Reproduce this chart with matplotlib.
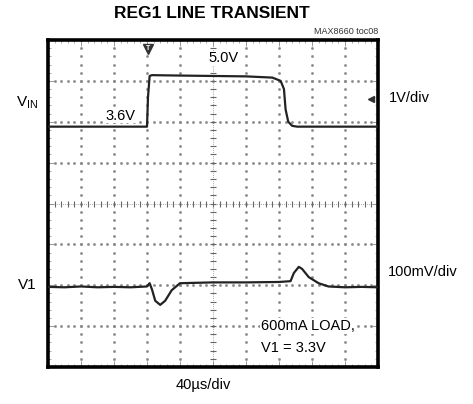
import matplotlib
matplotlib.use("Agg")
import matplotlib.pyplot as plt

plt.rcParams['font.family'] = ['Liberation Sans', 'DejaVu Sans']

# ---- data (in scope divisions: x 0..10, y 0..8) ----
vin_x = [0.0, 3.0, 3.03, 3.08, 3.15, 4.0, 5.0, 6.0, 6.8, 7.05, 7.15, 7.2, 7.28, 7.4, 7.55, 8.0, 9.0, 10.0]
vin_y = [5.88, 5.88, 6.6, 7.12, 7.14, 7.13, 7.12, 7.11, 7.08, 7.0, 6.8, 6.3, 6.0, 5.9, 5.88, 5.88, 5.88, 5.88]

v1_x = [0.0, 0.5, 1.0, 1.5, 2.0, 2.5, 3.0, 3.08, 3.15, 3.25, 3.4, 3.55, 3.75, 4.0, 4.5, 5.0, 6.0, 7.0, 7.35, 7.45, 7.6, 7.7, 7.9, 8.2, 8.5, 9.0, 9.5, 10.0]
v1_y = [1.96, 1.95, 1.97, 1.95, 1.96, 1.95, 1.97, 2.05, 1.9, 1.62, 1.52, 1.62, 1.88, 2.05, 2.06, 2.07, 2.07, 2.08, 2.1, 2.3, 2.45, 2.4, 2.2, 2.05, 1.97, 1.95, 1.96, 1.95]

label_vin_scale = "1V/div"
label_v1_scale = "100mV/div"
time_scale = "40\u00b5s/div"

fig = plt.figure(figsize=(4.73, 4.04), dpi=100)
ax = fig.add_axes([48/473, 37/404, 330/473, 327/404])
ax.set_xlim(0, 10)
ax.set_ylim(0, 8)

# dotted grid
grid_c = "#8a8a8a"
for k in range(1, 10):
    if k == 5:
        continue
    ys = [j / 5 for j in range(0, 41)]
    ax.plot([k] * len(ys), ys, linestyle="none", marker="s", markersize=0.9, color=grid_c, zorder=1)
for k in range(1, 8):
    if k == 4:
        continue
    xs = [j / 5 for j in range(0, 51)]
    ax.plot(xs, [k] * len(xs), linestyle="none", marker="s", markersize=0.9, color=grid_c, zorder=1)

# center crosshair with small ticks
ax.plot([5, 5], [0, 8], color=grid_c, lw=0.6, linestyle=(0, (1, 1.5)), zorder=1)
ax.plot([0, 10], [4, 4], color=grid_c, lw=0.6, linestyle=(0, (1, 1.5)), zorder=1)
ax.plot([5] * 41, [j / 5 for j in range(41)], linestyle="none", marker="_", markersize=5, color="#666666", mew=0.8, zorder=1)
ax.plot([j / 5 for j in range(51)], [4] * 51, linestyle="none", marker="|", markersize=5, color="#666666", mew=0.8, zorder=1)

# traces
ax.plot(vin_x, vin_y, color="#222222", lw=1.6, solid_joinstyle="round", zorder=3)
ax.plot(v1_x, v1_y, color="#222222", lw=1.6, solid_joinstyle="round", zorder=3)

# markers: trigger and channel arrow
ax.plot([3.03], [7.78], marker="v", markersize=7, color="#333333", clip_on=False, zorder=4)
ax.text(3.03, 7.8, "T", ha="center", va="center", fontsize=5, color="white", fontweight="bold", zorder=5)
ax.plot([9.78], [6.55], marker="<", markersize=5, color="#333333", zorder=4)

# ticks on frame
ax.set_xticks(range(0, 11))
ax.set_yticks(range(0, 9))
ax.set_xticks([j / 5 for j in range(51)], minor=True)
ax.set_yticks([j / 5 for j in range(41)], minor=True)
ax.tick_params(which="both", direction="in", top=True, right=True, bottom=True, left=True,
               labelbottom=False, labelleft=False, color="#888888")
ax.tick_params(which="major", length=4, width=0.6)
ax.tick_params(which="minor", length=2.5, width=0.5)
for s in ax.spines.values():
    s.set_linewidth(2.6)
    s.set_color("black")

# text
wb = dict(facecolor="white", edgecolor="none", pad=0.5)
fig.text(212/473, 1 - 13/404, "REG1 LINE TRANSIENT", ha="center", va="center",
         fontsize=12.5, fontweight="bold")
fig.text(378/473, 1 - 32/404, "MAX8660 toc08", ha="right", va="center", fontsize=6.5, color="#333333")
ax.text(1.73, 6.15, "3.6V", ha="left", va="center", fontsize=10.5, bbox=wb, zorder=2)
ax.text(4.85, 7.55, "5.0V", ha="left", va="center", fontsize=10.5, bbox=wb, zorder=2)
ax.text(6.45, 1.0, "600mA LOAD,", ha="left", va="center", fontsize=10.5, bbox=wb, zorder=2)
ax.text(6.45, 0.47, "V1 = 3.3V", ha="left", va="center", fontsize=10.5, bbox=wb, zorder=2)
fig.text(16/473, 1 - 103/404, "V$_{\\mathregular{IN}}$", ha="left", va="center", fontsize=11)
fig.text(18/473, 1 - 285/404, "V1", ha="left", va="center", fontsize=11)
fig.text(389/473, 1 - 98/404, label_vin_scale, ha="left", va="center", fontsize=10.5)
fig.text(388/473, 1 - 272/404, label_v1_scale, ha="left", va="center", fontsize=10.5)
fig.text(203/473, 1 - 385/404, time_scale, ha="center", va="center", fontsize=10.5)

fig.savefig("out.png", dpi=100)
